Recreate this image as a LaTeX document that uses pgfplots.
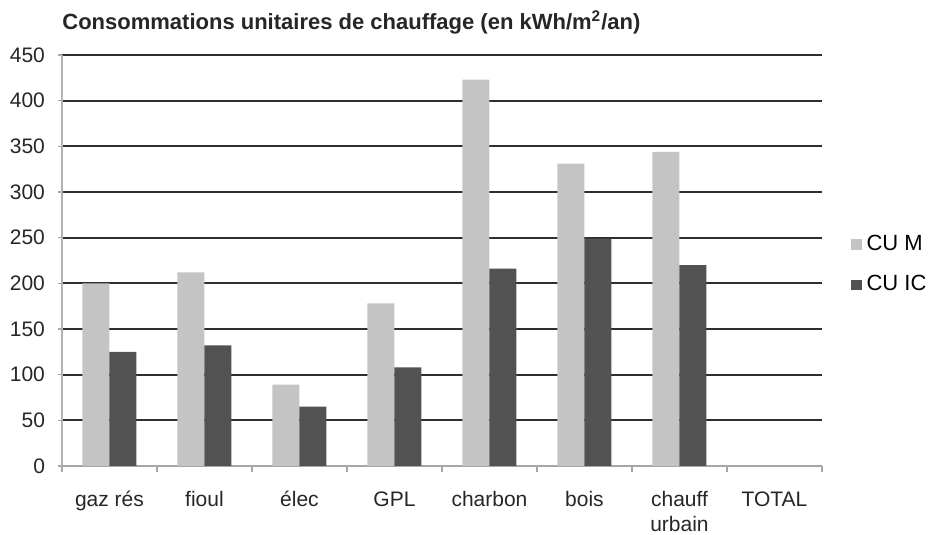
\documentclass[border=0pt]{standalone}
\usepackage{pgfplots}
\pgfplotsset{compat=1.18}
\usepackage{fontspec}
\setmainfont{Liberation Sans}
\definecolor{lightbar}{HTML}{C4C4C4}
\definecolor{darkbar}{HTML}{525252}
\definecolor{gridc}{HTML}{2E2E2E}
\begin{document}
\begin{tikzpicture}
\path[use as bounding box] (-31pt,-34.5pt) rectangle (438pt,233pt);
\begin{axis}[
  at={(0,0)}, anchor=south west,
  scale only axis, width=380pt, height=205.5pt,
  ybar=0pt, bar width=13.5pt,
  xmin=-0.5, xmax=7.5, ymin=0, ymax=450,
  ytick={0,50,...,450},
  xtick={0,...,7},
  xticklabels={\strut gaz rés, \strut fioul, \strut élec, \strut GPL, \strut charbon, \strut bois, {\strut chauff\\urbain}, \strut TOTAL},
  minor xtick={-0.5,0.5,...,7.5},
  major x tick style={draw=none},
  minor x tick style={draw=gray!70, line width=0.6pt},
  minor tick length=3pt,
  major tick length=2pt,
  tick align=outside,
  ytick style={draw=gray!70, line width=0.6pt},
  ymajorgrids, grid style={gridc, line width=0.9pt},
  axis x line*=bottom, axis y line*=left,
  x axis line style={gray!70, line width=0.8pt, -},
  y axis line style={gray!60, line width=0.6pt, -},
  tick label style={font=\fontsize{10.5}{12.5}\selectfont, text=black!85},
  xticklabel style={align=center, anchor=north, yshift=-6pt},
  yticklabel style={xshift=-3pt},
  /pgf/number format/assume math mode=true,
  legend style={draw=none, fill=none, at={(1.03,0.49)}, anchor=west,
    font=\fontsize{11}{13}\selectfont, row sep=7pt,
    legend cell align=left,
    nodes={inner xsep=2.5pt}},
  legend image code/.code={\fill[#1] (0pt,-2.6pt) rectangle (5.2pt,2.6pt);},
  clip=false,
]
\addplot[fill=lightbar, draw=none] coordinates {(0,200) (1,212) (2,89) (3,178) (4,423) (5,331) (6,344)};
\addplot[fill=darkbar, draw=none] coordinates {(0,125) (1,132) (2,65) (3,108) (4,216) (5,249) (6,220)};
\legend{CU M, CU IC}
\node[anchor=south west, font=\bfseries\fontsize{11}{13}\selectfont, text=black!85, inner sep=0pt]
  at (rel axis cs:0,1) [yshift=10pt] {Consommations unitaires de chauffage (en kWh/m\textsuperscript{2}/an)};
\end{axis}
\end{tikzpicture}
\end{document}
